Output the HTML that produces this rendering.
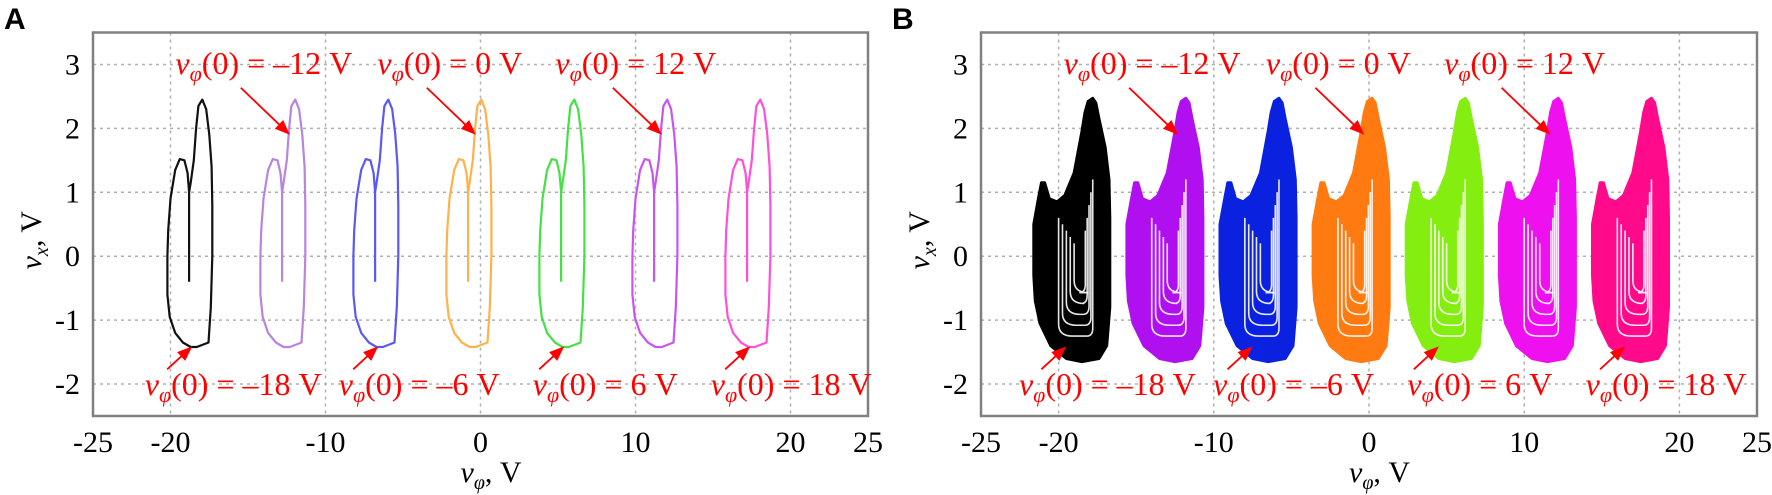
<!DOCTYPE html>
<html><head><meta charset="utf-8"><style>
html,body{margin:0;padding:0;background:#fff;}
svg{display:block;}
text{font-family:"Liberation Serif",serif;}
</style></head><body>
<svg id="fig" width="1772" height="495" viewBox="0 0 1772 495" xmlns="http://www.w3.org/2000/svg"></svg>
<script>
// ---- data ----
const initialValues = [-18, -12, -6, 0, 6, 12, 18];
const colorsA = ['#111111', '#b784e0', '#5a5af2', '#ffb24a', '#45e045', '#c955f0', '#ff50dc'];
const colorsB = ['#000000', '#b010f0', '#0a22e0', '#ff7a10', '#84ee10', '#ee10ee', '#ff0a8a'];
const xTicks = [-25, -20, -10, 0, 10, 20, 25];
const xGrid = [-20, -10, 0, 10, 20];
const yTicks = [-2, -1, 0, 1, 2, 3];
// limit-cycle shape (panel A) relative to v(0): dx, y
const loopDx = [-0.8,-0.8,-0.9,-1.1,-1.4,-1.7,-2.0,-2.15,-2.2,-2.2,-2.05,-1.7,-1.2,-0.7,-0.3,0.45,0.6,0.7,0.7,0.65,0.5,0.3,0.05,-0.2,-0.35,-0.5,-0.7,-0.8];
const loopY  = [-0.4,1.0,1.3,1.5,1.52,1.35,0.9,0.4,0,-0.6,-0.95,-1.2,-1.35,-1.42,-1.42,-1.35,-0.8,0,0.8,1.4,1.9,2.3,2.45,2.35,2.0,1.5,1.15,1.0];
// chaotic attractor envelope (panel B) relative to v(0): dx, y
const blobDx = [-3.1,-3.3,-3.6,-3.6,-3.5,-3.2,-2.5,-1.5,-0.5,0.6,1.1,1.3,1.3,1.25,1.0,0.6,0.4,0.2,-0.1,-0.3,-0.5,-1.0,-1.6,-2.1,-2.6,-2.9];
const blobY  = [1.15,0.9,0.5,-0.3,-0.7,-1.05,-1.4,-1.6,-1.65,-1.6,-1.4,-0.8,0.6,1.2,1.7,2.15,2.4,2.47,2.42,2.25,1.95,1.3,0.95,0.85,0.9,1.15];
const innerLoops = [0, 1, 2, 3, 4];

const NS = 'http://www.w3.org/2000/svg';
const svg = document.getElementById('fig');
function el(tag, attrs, parent){
  const e = document.createElementNS(NS, tag);
  for (const k in attrs) e.setAttribute(k, attrs[k]);
  (parent||svg).appendChild(e);
  return e;
}
function labelText(parent, x, y, txt, anchor){
  const t = el('text', {x:x, y:y, 'font-size':32, fill:'#ff0000', 'text-anchor':anchor||'start'}, parent);
  const a = el('tspan', {'font-style':'italic'}, t); a.textContent='v';
  const b = el('tspan', {'font-style':'italic','font-size':22, dy:7}, t); b.textContent='\u03c6';
  const c = el('tspan', {dy:-7}, t); c.textContent=txt;
  return t;
}
function minus(v){ return v<0 ? '\u2013'+Math.abs(v) : ''+v; }

function panel(left, right, letter, kind, colors){
  const top=32.5, bottom=416;
  const xs = v => left + (v+25)/50*(right-left);
  const ys = v => bottom - (v+2.5)/6*(bottom-top);
  const g = el('g', {});
  
  
  const L = el('text', {x:left-89, y:29, 'font-size':30, 'font-weight':'bold'}, g);
  
  
  L.style.fontFamily='"Liberation Sans",sans-serif';
  L.textContent = letter;
  xGrid.forEach(v=>{
    const l = el('line',{x1:xs(v),x2:xs(v),y1:top,y2:bottom,stroke:'#b0b0b0','stroke-width':1.5,'stroke-dasharray':'3,4'},g);
    
    
  });
  yTicks.forEach(v=>{
    const l = el('line',{x1:left,x2:right,y1:ys(v),y2:ys(v),stroke:'#b0b0b0','stroke-width':1.5,'stroke-dasharray':'3,4'},g);
    
    
  });
  initialValues.forEach((v0,i)=>{
    if(kind==='A'){
      let d=''; loopDx.forEach((dx,j)=>{ d+=(j?'L':'M')+xs(v0+dx).toFixed(1)+','+ys(loopY[j]).toFixed(1); });
      const p = el('path',{d:d,fill:'none',stroke:colors[i],'stroke-width':2.2,'stroke-linejoin':'round'},g);
      
      
    } else {
      let d=''; blobDx.forEach((dx,j)=>{ d+=(j?'L':'M')+xs(v0+dx).toFixed(1)+','+ys(blobY[j]).toFixed(1); });
      const p = el('path',{d:d+'Z',fill:colors[i],stroke:colors[i],'stroke-width':3,'stroke-linejoin':'round'},g);
      
      
      innerLoops.forEach(k=>{
        const xl = xs(v0-2.0+k*0.25), xr = xs(v0+0.2-k*0.12);
        const yt = ys(0.6-k*0.1), yb = ys(-1.25+k*0.17);
        const dd = 'M'+xl+','+yt+' L'+xl+','+(yb-12)+' Q'+xl+','+yb+' '+(xl+14)+','+yb+' L'+(xr-6)+','+yb+' Q'+xr+','+yb+' '+xr+','+(yb-8)+' L'+xr+','+ys(1.2-k*0.2);
        const q = el('path',{d:dd,fill:'none',stroke:'#ffffff','stroke-width':1.6,opacity:0.9},g);
        
        
      });
    }
  });
  const f = el('rect',{x:left,y:top,width:right-left,height:bottom-top,fill:'none',stroke:'#808080','stroke-width':2.5},g);
  
  
  xTicks.forEach(v=>{
    const t = el('text',{x:xs(v),y:452,'font-size':30,'text-anchor':'middle'},g);
    
    
    t.textContent = v;
  });
  yTicks.forEach(v=>{
    const t = el('text',{x:left-13,y:ys(v)+10,'font-size':30,'text-anchor':'end'},g);
    
    
    t.textContent = v;
  });
  const xt = el('text',{x:xs(0)-20,y:482,'font-size':30},g);
  
  
  const a1=el('tspan',{'font-style':'italic'},xt); a1.textContent='v';
  const a2=el('tspan',{'font-style':'italic','font-size':20,dy:7},xt); a2.textContent='\u03c6';
  const a3=el('tspan',{dy:-7},xt); a3.textContent=', V';
  const yt = el('text',{x:0,y:0,'font-size':30,transform:'translate('+(left-52)+','+ys(0.25)+') rotate(-90)','text-anchor':'middle'},g);
  
  
  const b1=el('tspan',{'font-style':'italic'},yt); b1.textContent='v';
  const b2=el('tspan',{'font-style':'italic','font-size':20,dy:7},yt); b2.textContent='x';
  const b3=el('tspan',{dy:-7},yt); b3.textContent=', V';
  initialValues.forEach((v0,i)=>{
    const topRow = (i%2===1);
    const ag = el('g',{},g);
    
    
    let hx,hy,tx,ty,lx,ly;
    if(topRow){
      hx = xs(v0-0.3); hy = ys(1.9); tx = hx-49; ty = hy-47;
      lx = tx+23; ly = 74;
    } else {
      const off = (kind==='B') ? -1.5 : -0.6;
      hx = xs(v0+off); hy = ys(-1.41); tx = hx-25; ty = hy+23;
      lx = tx+66; ly = 395;
    }
    const len = Math.hypot(hx-tx,hy-ty);
    el('line',{x1:tx,y1:ty,x2:hx-12*(hx-tx)/len,y2:hy-12*(hy-ty)/len,stroke:'#ff0000','stroke-width':1.8},ag);
    const ang = Math.atan2(hy-ty,hx-tx);
    const L2=15,W=6;
    const p1x=hx-L2*Math.cos(ang)+W*Math.sin(ang), p1y=hy-L2*Math.sin(ang)-W*Math.cos(ang);
    const p2x=hx-L2*Math.cos(ang)-W*Math.sin(ang), p2y=hy-L2*Math.sin(ang)+W*Math.cos(ang);
    el('polygon',{points:hx+','+hy+' '+p1x+','+p1y+' '+p2x+','+p2y,fill:'#ff0000'},ag);
    labelText(ag, lx, ly, '(0) = '+minus(v0)+' V', 'middle');
  });
}
panel(93, 868, 'A', 'A', colorsA);
panel(981, 1757, 'B', 'B', colorsB);
</script>
</body></html>
